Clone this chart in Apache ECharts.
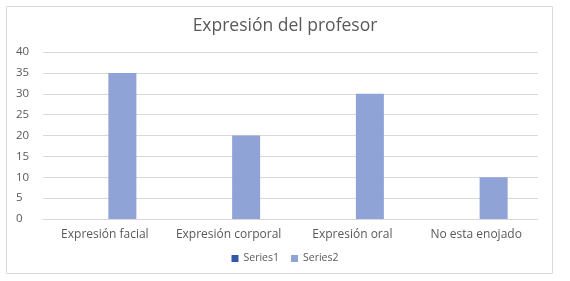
<!DOCTYPE html>
<html><head><meta charset="utf-8">
<script src="https://cdn.jsdelivr.net/npm/echarts@6/dist/echarts.min.js"></script>
<style>html,body{margin:0;padding:0;background:#fff}#c{width:570px;height:281px}</style>
</head><body><div id="c"></div>
<script>
const categories = ['Expresión facial', 'Expresión corporal', 'Expresión oral', 'No esta enojado'];
const series1 = [0, 0, 0, 0];
const series2 = [35, 20, 30, 10];
const seriesNames = ['Series1', 'Series2'];
const chart = echarts.init(document.getElementById('c'));
const font = 'Open Sans';
chart.setOption({
  animation: false,
  graphic: [{type: 'rect', shape: {x: 6.5, y: 6.5, width: 546, height: 267}, style: {fill: 'none', stroke: '#d9d9d9', lineWidth: 1}}],
  title: {text: 'Expresión del profesor', left: 'center', top: 12, textStyle: {fontFamily: font, fontSize: 17.5, fontWeight: 'normal', color: '#595959'}},
  legend: {data: seriesNames, bottom: 12, left: 'center', itemWidth: 7, itemHeight: 7, itemGap: 12, icon: 'rect', textStyle: {fontFamily: font, fontSize: 10.5, color: '#595959'}},
  grid: {left: 43, right: 32, top: 52, bottom: 62},
  xAxis: {type: 'category', data: categories, axisTick: {show: false}, axisLine: {lineStyle: {color: '#d9d9d9'}}, axisLabel: {interval: 0, fontFamily: font, fontSize: 12, color: '#595959', margin: 10}},
  yAxis: {type: 'value', min: 0, max: 40, interval: 5, axisLine: {show: false}, axisTick: {show: false}, splitLine: {lineStyle: {color: '#d9d9d9'}}, axisLabel: {fontFamily: font, fontSize: 11.5, color: '#595959', margin: 27, align: 'left'}},
  series: [
    {name: seriesNames[0], type: 'bar', data: series1, barWidth: 28, barGap: '25%', itemStyle: {color: '#3358a8'}},
    {name: seriesNames[1], type: 'bar', data: series2, barWidth: 28, barGap: '25%', itemStyle: {color: '#8fa3d6'}}
  ]
});
</script></body></html>
